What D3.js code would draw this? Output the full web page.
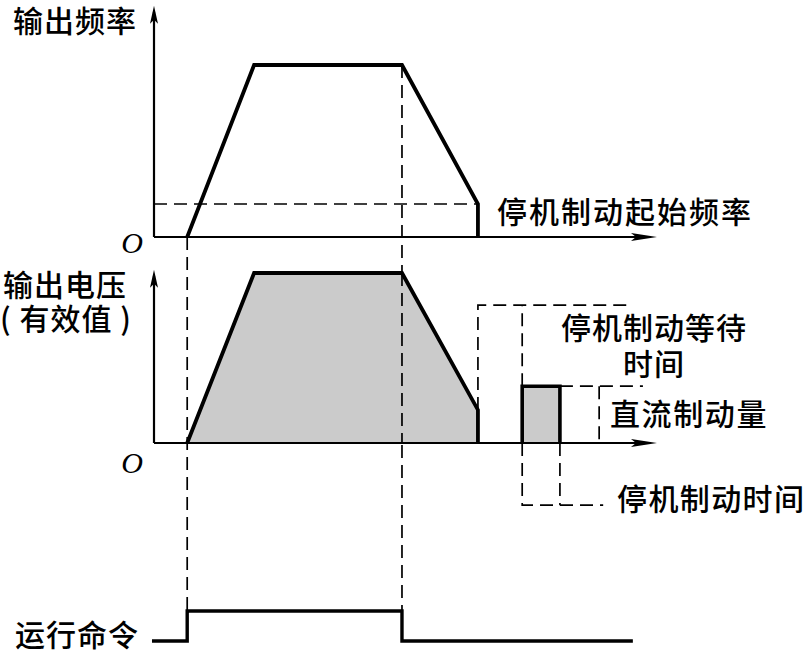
<!DOCTYPE html>
<html>
<head>
<meta charset="utf-8">
<script src="https://cdn.jsdelivr.net/npm/d3@7"></script>
<style>
  body { margin: 0; background: #fff; }
  svg { display: block; }
  .cjk { font-family: "Noto Sans CJK SC", "Noto Sans", sans-serif; font-size: 30px; font-weight: 500; fill: #000; }
  .origin { font-family: "Liberation Serif", "DejaVu Serif", serif; font-style: italic; font-size: 30px; fill: #000; }
</style>
</head>
<body>
<div id="chart"></div>
<script>
// time points of the stop sequence: start, end of accel, stop command, brake start
var phaseTimes = [6.6, 19.9, 49.3, 64.4];
var freqValues = [0, 50, 50, 9.6];     // Hz
var voltValues = [0, 380, 380, 74];    // V (rms)
var brakeStartFreq = 9.6;

// dc braking pulse
var dcBrakeTimes = [73.2, 80.7];
var dcBrakeLevel = 127;

// run command (0 = off, 1 = on)
var runTimes = [-0.4, 6.6, 6.6, 49.3, 49.3, 95.2];
var runLevels = [0, 0, 1, 1, 0, 0];

// annotation bracket levels / ends (data units)
var waitLevel = 308, waitEnd = 95.2;
var brakeTimeLevel = -139, brakeTimeEnd = 89.3;
var dcAmountEnd = 97.2, dcAmountMark = 88.5;

var axisLabels = ["输出频率", "输出电压", "( 有效值 )", "运行命令"];
var noteLabels = ["停机制动起始频率", "停机制动等待", "时间", "直流制动量", "停机制动时间"];

var WIDTH = 806, HEIGHT = 653;

var svg = d3.select('#chart')
            .append('svg')
            .attr('width', WIDTH)
            .attr('height', HEIGHT);

// scales
var x = d3.scaleLinear().domain([0, 100]).range([154, 657]);
var yF = d3.scaleLinear().domain([0, 50]).range([237, 65]);
var yV = d3.scaleLinear().domain([0, 380]).range([443, 273]);
var yR = d3.scaleLinear().domain([0, 1]).range([641, 611]);

var dash = '13,7';

function line(xs, ys, ysc) {
  return d3.line()
           .x(function(d, i) { return x(xs[i]); })
           .y(function(d, i) { return ysc(ys[i]); })(xs);
}

// dashed guide lines from the time points down to the run command
svg.append('line')
   .attr('x1', x(phaseTimes[0])).attr('x2', x(phaseTimes[0]))
   .attr('y1', yF(0)).attr('y2', yR(1))
   .attr('stroke', '#000').attr('stroke-width', 1.7).attr('stroke-dasharray', dash);
svg.append('line')
   .attr('x1', x(phaseTimes[2])).attr('x2', x(phaseTimes[2]))
   .attr('y1', yF(freqValues[2])).attr('y2', yR(1))
   .attr('stroke', '#000').attr('stroke-width', 1.7).attr('stroke-dasharray', dash);

// ---- top panel: output frequency
var fx = phaseTimes.concat([phaseTimes[3]]);
var fy = freqValues.concat([0]);

svg.append('line')
   .attr('x1', x(0)).attr('x2', x(phaseTimes[3]))
   .attr('y1', yF(brakeStartFreq)).attr('y2', yF(brakeStartFreq))
   .attr('stroke', '#000').attr('stroke-width', 1.7).attr('stroke-dasharray', dash);

svg.append('path')
   .attr('d', line(fx, fy, yF))
   .attr('fill', 'none').attr('stroke', '#000')
   .attr('stroke-width', 3.8).attr('stroke-linejoin', 'miter');

// ---- middle panel: output voltage (filled)
var vx = phaseTimes.concat([phaseTimes[3]]);
var vy = voltValues.concat([0]);

svg.append('path')
   .attr('d', line(vx, vy, yV) + 'Z')
   .attr('fill', '#cbcbcb').attr('stroke', 'none');

// stop guide line shows through the fill
svg.append('line')
   .attr('x1', x(phaseTimes[2])).attr('x2', x(phaseTimes[2]))
   .attr('y1', yV(voltValues[2])).attr('y2', yV(0))
   .attr('stroke', '#000').attr('stroke-width', 1.7).attr('stroke-dasharray', dash);

svg.append('path')
   .attr('d', line(vx, vy, yV))
   .attr('fill', 'none').attr('stroke', '#000')
   .attr('stroke-width', 3.8).attr('stroke-linejoin', 'miter');

// dc braking block
svg.append('rect')
   .attr('x', x(dcBrakeTimes[0]))
   .attr('y', yV(dcBrakeLevel))
   .attr('width', x(dcBrakeTimes[1]) - x(dcBrakeTimes[0]))
   .attr('height', yV(0) - yV(dcBrakeLevel))
   .attr('fill', '#cbcbcb');
svg.append('path')
   .attr('d', line([dcBrakeTimes[0], dcBrakeTimes[0], dcBrakeTimes[1], dcBrakeTimes[1]],
                   [0, dcBrakeLevel, dcBrakeLevel, 0], yV))
   .attr('fill', 'none').attr('stroke', '#000')
   .attr('stroke-width', 3.6).attr('stroke-linejoin', 'miter');

// annotation brackets (dashed)
var brackets = [
  // wait time
  [[phaseTimes[3], phaseTimes[3], waitEnd], [voltValues[3], waitLevel, waitLevel]],
  [[dcBrakeTimes[0], dcBrakeTimes[0]], [dcBrakeLevel, waitLevel]],
  // dc amount
  [[dcBrakeTimes[1], dcAmountEnd], [dcBrakeLevel, dcBrakeLevel]],
  [[dcAmountMark, dcAmountMark], [dcBrakeLevel, 0]],
  // braking time
  [[dcBrakeTimes[0], dcBrakeTimes[0], brakeTimeEnd], [0, brakeTimeLevel, brakeTimeLevel]],
  [[dcBrakeTimes[1], dcBrakeTimes[1]], [0, brakeTimeLevel]]
];
brackets.forEach(function(b) {
  svg.append('path')
     .attr('d', line(b[0], b[1], yV))
     .attr('fill', 'none').attr('stroke', '#000')
     .attr('stroke-width', 1.7).attr('stroke-dasharray', dash);
});

// ---- axes with arrow heads
function vAxis(y0, y1) {
  svg.append('line')
     .attr('x1', x(0)).attr('x2', x(0)).attr('y1', y0).attr('y2', y1 + 6)
     .attr('stroke', '#000').attr('stroke-width', 2.2);
  svg.append('path')
     .attr('d', 'M' + x(0) + ',' + y1 + 'L' + (x(0) - 4) + ',' + (y1 + 18) +
                'L' + x(0) + ',' + (y1 + 14) + 'L' + (x(0) + 4) + ',' + (y1 + 18) + 'Z')
     .attr('fill', '#000');
}
function hAxis(y0) {
  svg.append('line')
     .attr('x1', x(0)).attr('x2', x(100) - 6).attr('y1', y0).attr('y2', y0)
     .attr('stroke', '#000').attr('stroke-width', 2.2);
  svg.append('path')
     .attr('d', 'M' + x(100) + ',' + y0 + 'L' + (x(100) - 26) + ',' + (y0 - 4) +
                'L' + (x(100) - 21) + ',' + y0 + 'L' + (x(100) - 26) + ',' + (y0 + 4) + 'Z')
     .attr('fill', '#000');
}
vAxis(yF(0), yF(67.2));
hAxis(yF(0));
vAxis(yV(0), yV(387));
hAxis(yV(0));

// ---- bottom: run command
svg.append('path')
   .attr('d', line(runTimes, runLevels, yR))
   .attr('fill', 'none').attr('stroke', '#000')
   .attr('stroke-width', 3.4).attr('stroke-linejoin', 'miter');

// ---- text
svg.append('text').attr('class', 'origin').attr('x', 132).attr('y', yF(0) + 16)
   .attr('text-anchor', 'middle').text('O');
svg.append('text').attr('class', 'origin').attr('x', 132).attr('y', yV(0) + 30)
   .attr('text-anchor', 'middle').text('O');

svg.append('text').attr('class', 'cjk').attr('x', 13).attr('y', 32)
   .attr('letter-spacing', 1).text(axisLabels[0]);
svg.append('text').attr('class', 'cjk').attr('x', 3).attr('y', 296)
   .attr('letter-spacing', 1).text(axisLabels[1]);
svg.append('text').attr('class', 'cjk').attr('x', 0).attr('y', 330)
   .attr('letter-spacing', 1).text(axisLabels[2]);
svg.append('text').attr('class', 'cjk').attr('x', 15).attr('y', 646)
   .attr('letter-spacing', 1).text(axisLabels[3]);

svg.append('text').attr('class', 'cjk').attr('x', 497).attr('y', 223)
   .attr('letter-spacing', 2).text(noteLabels[0]);
svg.append('text').attr('class', 'cjk').attr('x', 654).attr('y', 339)
   .attr('text-anchor', 'middle').attr('letter-spacing', 1).text(noteLabels[1]);
svg.append('text').attr('class', 'cjk').attr('x', 654).attr('y', 375)
   .attr('text-anchor', 'middle').attr('letter-spacing', 1).text(noteLabels[2]);
svg.append('text').attr('class', 'cjk').attr('x', 610).attr('y', 425)
   .attr('letter-spacing', 1.6).text(noteLabels[3]);
svg.append('text').attr('class', 'cjk').attr('x', 617).attr('y', 510)
   .attr('letter-spacing', 1.4).text(noteLabels[4]);
</script>
</body>
</html>
